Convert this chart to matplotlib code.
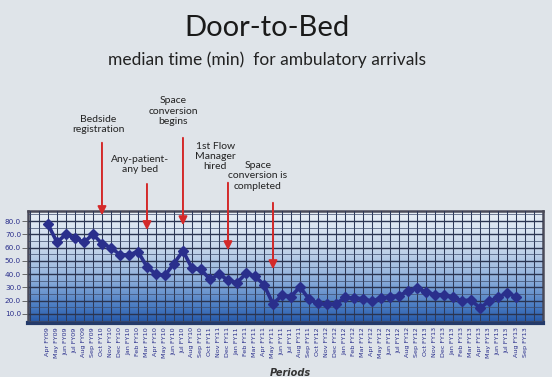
import numpy as np
import matplotlib.pyplot as plt
from matplotlib.colors import LinearSegmentedColormap

months = ["Apr", "May", "Jun", "Jul", "Aug", "Sep", "Oct", "Nov", "Dec",
          "Jan", "Feb", "Mar"]
periods = [f"{m} FY09" for m in months[:6]]
for fy in ["FY10", "FY11", "FY12", "FY13"]:
    periods += [f"{m} {fy}" for m in months[6:] + months[:6]]

door_to_bed = [77.5, 64, 70, 67, 64, 70, 63, 60, 54.5, 54.5, 57, 45.5,
               40, 39, 48, 57.5, 44.5, 43.5, 36, 40, 35.5, 33.5, 40.5, 38.5,
               32, 17.5, 24, 23, 30.5, 21, 18, 17.5, 17.5, 22.5, 22, 21.5,
               19.5, 22, 23, 23.5, 27.5, 29.5, 26.5, 24.5, 24.5, 22.5, 20, 20.5,
               14.5, 19.5, 22.5, 26, 23]

events = ["Bedside\nregistration", "Any-patient-\nany bed", "Space\nconversion\nbegins",
          "1st Flow\nManager\nhired", "Space\nconversion is\ncompleted"]
event_idx = [6, 11, 15, 20, 25]
arrow_tip = [82.3, 71, 74.7, 55.9, 41.6]
arrow_start = [141, 110, 144.7, 110.9, 95.8]
label_x = [5.6, 10.2, 13.9, 18.6, 23.3]
label_y = [153, 122.5, 162.8, 128.9, 113.9]

bg = "#dfe4e9"
navy = "#2a2f8c"

fig = plt.figure(figsize=(5.52, 3.77), dpi=100, facecolor=bg)
ax = fig.add_axes([0.0507, 0.1432, 0.933, 0.297])

x = np.arange(len(door_to_bed))
xmin, xmax, ymin, ymax = -2.22, 55.0, 3.2, 87.5

cmap = LinearSegmentedColormap.from_list(
    "grad", [(0, "#2456a6"), (0.15, "#4a7cc2"), (0.4, "#8fb0dc"),
             (0.65, "#c3d4ea"), (1, "#eaf0f6")])
grad = np.linspace(0, 1, 256).reshape(-1, 1)
ax.imshow(grad, cmap=cmap, origin="lower", aspect="auto",
          extent=[xmin, xmax, ymin, ymax], zorder=0)

ax.plot(x, door_to_bed, color=navy, lw=2.6, marker="D", ms=5.5,
        markeredgecolor=navy, zorder=3)

ax.set_xlim(xmin, xmax)
ax.set_ylim(ymin, ymax)
ax.set_xticks(np.arange(len(periods)))
ax.set_xticklabels(periods, rotation=90, fontsize=4.6, color=navy)
ax.set_xticks([-2, -1, 54], minor=True)
ax.set_yticks(np.arange(10, 81, 10))
ax.set_yticklabels([f"{v:.1f}" for v in range(10, 81, 10)], fontsize=5.2, color=navy)
ax.set_yticks(np.arange(5, 86, 5), minor=True)
ax.tick_params(axis="x", which="both", length=0, pad=3)
ax.tick_params(axis="y", which="major", length=4, width=0.6, color="#555", pad=1)
ax.tick_params(axis="y", which="minor", length=0)
ax.grid(True, axis="x", which="both", color="#2f3a58", lw=0.75, zorder=1)
ax.grid(True, axis="y", which="major", color="#2a3450", lw=1.0, zorder=1)
ax.grid(True, axis="y", which="minor", color="#3e4c6c", lw=0.5, zorder=1)
ax.set_axisbelow(False)
for s in ax.spines.values():
    s.set_color("#4a4a58")
    s.set_linewidth(1.8)
ax.spines["bottom"].set_linewidth(3)
ax.spines["bottom"].set_color("#243a6a")

ax.set_xlabel("Periods", fontsize=7, fontstyle="italic", fontweight="bold",
              color="#333")
ax.xaxis.set_label_coords(0.51, -0.4)

for txt, xi, tip, start, lx, ly in zip(events, event_idx, arrow_tip, arrow_start,
                                       label_x, label_y):
    ax.annotate("", xy=(xi, tip), xytext=(xi, start), annotation_clip=False,
                arrowprops=dict(arrowstyle="-|>,head_width=0.25,head_length=0.5",
                                color="#d42a2a", lw=1.4), zorder=5)
    ax.text(lx, ly, txt, ha="center", va="center", fontsize=7.5,
            family="Lato", color="#222", linespacing=1.15, clip_on=False)

fig.text(0.484, 0.925, "Door-to-Bed", ha="center", va="center",
         fontsize=21, family="Lato", color="#1a1a1a")
fig.text(0.484, 0.842, "median time (min)  for ambulatory arrivals",
         ha="center", va="center", fontsize=12.5, family="Lato", color="#222")

fig.savefig("out.png", dpi=100, facecolor=bg)
